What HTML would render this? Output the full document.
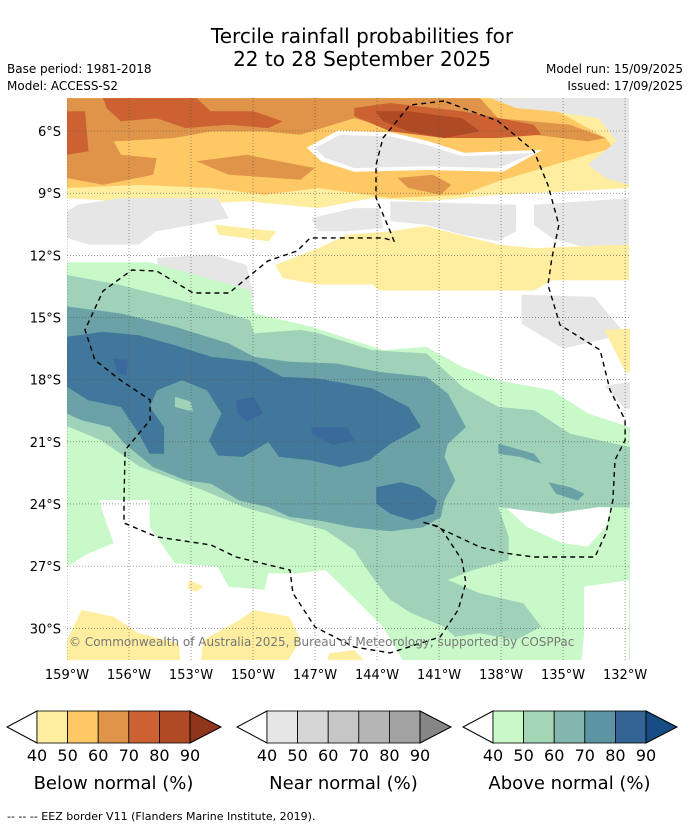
<!DOCTYPE html>
<html><head><meta charset="utf-8"><style>
html,body{margin:0;padding:0;background:#fff;}
body{width:690px;height:827px;overflow:hidden;font-family:"DejaVu Sans","Liberation Sans",sans-serif;}
svg text{font-family:"DejaVu Sans","Liberation Sans",sans-serif;}
</style></head><body>
<svg id="chart" width="690" height="827" viewBox="0 0 690 827" xmlns="http://www.w3.org/2000/svg">
<text x="362" y="43" font-size="20" text-anchor="middle">Tercile rainfall probabilities for</text>
<text x="362" y="66" font-size="20" text-anchor="middle">22 to 28 September 2025</text>
<text x="7" y="73" font-size="12">Base period: 1981-2018</text>
<text x="7" y="90" font-size="12">Model: ACCESS-S2</text>
<text x="683" y="73" font-size="12" text-anchor="end">Model run: 15/09/2025</text>
<text x="683" y="90" font-size="12" text-anchor="end">Issued: 17/09/2025</text>
<defs><clipPath id="mapclip"><rect x="67" y="98" width="563" height="562"/></clipPath></defs>
<g id="map" clip-path="url(#mapclip)"></g>
<g id="axes"></g>
<g id="legend"></g>
<text x="7" y="820" font-size="11">--  --  -- EEZ border V11 (Flanders Marine Institute, 2019).</text>
</svg>
<script>
// axis ticks
const latTicks = [6, 9, 12, 15, 18, 21, 24, 27, 30];
const lonTicks = [159, 156, 153, 150, 147, 144, 141, 138, 135, 132];
const levels = ["40","50","60","70","80","90"];
const belowColors = ["#ffeda0","#fec965","#e0944a","#cc6232","#b04a24","#8f351c"];
const nearColors = ["#e6e6e6","#d6d6d6","#c6c6c6","#b5b5b5","#a2a2a2","#868686"];
const aboveColors = ["#c9f8c9","#a4d6b6","#82b6ae","#5c94a4","#336494","#184c84"];
const legendTitles = ["Below normal (%)","Near normal (%)","Above normal (%)"];
// regions: [color, [[lonW, latS], ...]]
const regions = [
 ["#ffeda0",[[159,4.41],[131.81,4.41],[131.81,8.75],[134.67,8.91],[138.15,9.08],[141.62,9.39],[144.23,9.24],[146.84,9.72],[150.31,9.39],[153.79,9.56],[159,9.24]]],
 ["#fec965",[[159,4.41],[136.41,4.41],[132.94,6.34],[132.59,6.82],[133.8,7.15],[138.15,8.43],[139.89,9.08],[143.36,9.24],[146.84,8.75],[149.44,9.08],[152.05,8.75],[155.52,8.6],[159,8.75]]],
 ["#ffffff",[[147.4,6.81],[145.9,5.98],[143.3,6.07],[141.5,6.49],[139.8,7.05],[136.0,6.91],[137.9,7.97],[141.6,7.88],[145.1,7.97],[146.7,7.46]]],
 ["#e6e6e6",[[147.01,6.82],[145.79,6.18],[143.36,6.26],[141.62,6.67],[139.89,7.22],[136.41,7.06],[138.15,7.79],[141.62,7.70],[145.1,7.79],[146.49,7.31]]],
 ["#e0944a",[[159,4.41],[139.02,4.41],[138.15,5.38],[134.67,5.7],[132.94,6.34],[133.8,6.5],[136.41,6.18],[139.89,6.18],[143.36,5.86],[145.1,5.38],[147.71,6.18],[149.44,6.02],[152.05,6.02],[153.79,6.34],[156.74,6.5],[156.39,7.15],[154.66,7.31],[154.83,8.11],[157.26,8.6],[159,8.27]]],
 ["#e0944a",[[152.74,7.46],[150.31,7.15],[147.01,7.79],[147.71,8.35],[151.18,8.11]]],
 ["#e0944a",[[143.01,8.27],[141.28,8.11],[140.41,8.6],[140.93,9.08],[142.49,8.75]]],
 ["#e6e6e6",[[138.5,4.41],[131.81,4.41],[131.81,8.6],[132.94,8.27],[133.8,7.63],[132.41,6.5],[133.28,5.38],[135.54,5.05],[137.28,4.89]]],
 ["#cc6232",[[159,5.05],[158.13,5.05],[157.96,6.98],[159,7.15]]],
 ["#cc6232",[[157.26,4.41],[152.74,4.41],[152.05,5.05],[149.96,5.05],[148.57,5.53],[149.27,5.86],[151.18,5.7],[153.27,5.86],[154.66,5.38],[156.39,5.53],[157.09,4.89]]],
 ["#cc6232",[[145.1,4.89],[143.36,4.65],[139.89,5.05],[136.41,5.7],[136.06,6.18],[138.15,6.34],[140.76,6.34],[143.36,6.02],[145.1,5.29]]],
 ["#b04a24",[[144.06,5.05],[142.49,5.05],[139.89,5.38],[139.02,6.02],[140.76,6.34],[142.49,6.02],[143.71,5.53]]],
 ["#e6e6e6",[[158.48,9.56],[156.39,9.24],[151.7,9.24],[151.18,10.2],[152.92,10.52],[154.66,10.84],[155.52,11.48],[157.96,11.48],[159,11.17],[159,9.88]]],
 ["#e6e6e6",[[147.18,10.2],[145.1,9.72],[143.88,9.72],[143.71,10.68],[145.45,10.84],[146.84,10.84]]],
 ["#e6e6e6",[[143.36,9.39],[137.28,9.56],[137.28,10.84],[138.15,11.32],[139.89,11.01],[141.62,10.52],[143.36,10.36]]],
 ["#e6e6e6",[[136.41,9.56],[131.81,9.24],[131.81,11.48],[133.8,11.65],[135.54,11.17],[136.41,10.52]]],
 ["#e6e6e6",[[154.66,12.13],[152.05,11.96],[150.31,12.46],[149.96,14.06],[153.79,14.06],[154.48,13.1]]],
 ["#ffeda0",[[148.92,12.46],[146.84,11.65],[145.45,11.01],[143.36,10.84],[141.62,10.6],[138.15,11.48],[136.41,11.65],[131.81,11.48],[131.81,13.2],[135.54,13.2],[136.41,13.7],[143.9,13.7],[144.23,13.41],[146.84,13.41],[148.57,13.1]]],
 ["#ffeda0",[[151.84,10.52],[148.88,10.84],[149.23,11.32],[151.66,11.01]]],
 ["#e6e6e6",[[137,13.9],[133.5,14.0],[132,15.8],[135,16.5],[137,15.3]]],
 ["#ffeda0",[[133,15.6],[131,15.5],[130,16.7],[130,18.0],[132,17.6]]],
 ["#e6e6e6",[[133,18.3],[131,18.0],[130,19.5],[132,19.4]]],
 ["#c9f8c9",[[159,12.33],[155,12.33],[150.15,13.67],[149.96,14.80],[148.57,15.12],[147.17,15.45],[143.7,16.58],[141.61,16.42],[139.87,17.39],[138.13,18.03],[135.52,18.52],[133.78,19.64],[131.78,20.29],[130,20.41],[130,32],[142.49,32],[143.71,29.92],[146.49,27.19],[147.88,27.35],[149.27,27.35],[149.44,28.15],[151.18,27.99],[151.7,27.03],[153.79,26.86],[155.0,25.10],[155.0,23.81],[157.44,23.81],[157.26,24.45],[156.74,25.90],[157.96,26.38],[159,27.03]]],
 ["#ffffff",[[137.8,24.14],[135.54,23.81],[132.59,23.81],[132.94,25.10],[133.8,26.06],[135.02,25.90],[136.76,25.10]]],
 ["#ffffff",[[133.98,27.99],[131.81,27.67],[131.81,32],[134.15,32],[133.98,30.24]]],
 ["#9fd2b9",[[159,12.95],[156.44,13.43],[153.53,14.16],[150.15,15.12],[149.96,15.77],[147.7,15.60],[146.83,15.77],[144.22,16.58],[141.61,16.74],[141.09,17.22],[139.87,18.35],[138.13,19.32],[136.39,19.48],[134.65,20.61],[131.78,21.25],[130,21.43],[130,24.2],[133.26,24.15],[135.52,24.48],[138.13,24.15],[137.63,25.58],[137.63,26.71],[139.37,27.19],[140.58,27.67],[139.02,28.31],[136.93,28.79],[136.06,29.92],[137.28,30.57],[139.02,30.24],[140.23,30.41],[140.76,29.92],[142.32,29.28],[143.36,28.63],[143.88,27.99],[144.58,27.03],[145.1,26.22],[146.49,25.26],[148.23,24.78],[150.49,24.14],[152.5,23.3],[155.47,22.2],[157.4,20.9],[159,20.24]]],
 ["#6aa2a8",[[159,14.47],[156.39,14.81],[153.78,15.45],[151.17,16.25],[149.96,16.9],[148.22,17.14],[145.96,17.22],[143.87,17.63],[141.61,17.87],[140.57,18.67],[139.7,20.29],[140.57,21.09],[140.74,21.73],[140.22,22.86],[140.74,23.84],[140.91,24.63],[141.78,25.13],[143.35,25.32],[145.09,25.14],[146.83,24.80],[148.22,24.63],[149.26,24.15],[150.65,23.84],[152.04,23.02],[153.26,22.86],[154.83,22.22],[156.22,21.09],[156.91,20.29],[158.3,19.96],[159,19.64]]],
 ["#6aa2a8",[[138.13,21.09],[136.39,21.58],[136.04,22.06],[137.09,21.73],[138.13,21.58]]],
 ["#6aa2a8",[[135.7,22.95],[134.65,23.19],[133.96,23.51],[134.3,23.84],[135.35,23.51]]],
 ["#40779a",[[159,15.93],[157.26,15.69],[155.52,15.86],[153.78,16.34],[152.04,16.9],[149.96,17.14],[148.57,17.87],[146.83,17.95],[144.22,18.43],[142.48,19.32],[141.87,20.29],[143.35,21.09],[144.39,21.90],[145.78,22.22],[147.17,21.90],[148.74,21.73],[149.26,21.01],[150.48,21.73],[151.7,21.66],[152.13,20.93],[151.52,19.64],[152.22,18.52],[153.43,18.03],[154.65,18.52],[155.0,19.32],[154.3,20.29],[154.3,21.58],[155.0,21.58],[155.52,20.61],[156.39,19.32],[157.96,19.0],[159,18.35]]],
 ["#6aa2a8",[[154.3,18.83],[153.09,18.52],[152.22,19.0],[152.39,20.29],[153.26,20.77],[153.96,20.29]]],
 ["#9fd2b9",[[153.78,18.83],[153.0,19.07],[152.91,19.55],[153.78,19.32]]],
 ["#40779a",[[144.04,23.19],[142.83,22.95],[141.96,23.19],[141.09,23.84],[141.26,24.48],[142.3,24.8],[143.35,24.48],[144.04,23.99]]],
 ["#3a6a9c",[[150.83,19.0],[149.96,18.83],[149.52,19.64],[150.3,20.04],[150.74,19.64]]],
 ["#3a6a9c",[[147.17,20.29],[145.43,20.29],[145.09,20.93],[146.13,21.17],[147.17,20.61]]],
 ["#3a6a9c",[[156.74,16.98],[156.04,17.06],[156.13,17.78],[156.57,17.71]]],
 ["#ffeda0",[[158.3,29.12],[156.74,29.44],[155.52,30.24],[153.61,30.72],[153.44,32],[159,32],[159,30.57]]],
 ["#ffeda0",[[149.96,29.12],[148.23,29.44],[147.71,30.57],[148.57,32],[152.57,32],[152.4,30.57],[150.66,29.6]]],
 ["#ffeda0",[[153.09,27.67],[152.4,27.99],[152.74,28.24],[153.18,28.07]]],
 ["#ffeda0",[[146.32,31.21],[145.1,31.05],[144.23,32],[146.49,32]]]
];
// EEZ border path [lonW, latS]
const eezLine = [[140.76,4.55],[142.41,4.75],[143.71,6.34],[144.05,7.64],[144.05,9.23],[143.37,10.83],[143.18,11.31],[143.71,11.16],[147.24,11.16],[147.87,11.79],[149.28,12.27],[150.29,13.09],[151.16,13.82],[152.9,13.82],[154.65,12.76],[155.86,12.71],[157.26,13.72],[158.13,15.6],[157.65,17.05],[156.44,18.01],[154.98,18.98],[154.98,19.95],[156.19,21.4],[156.24,23.81],[156.24,24.92],[154.65,25.59],[152.03,25.98],[150.82,26.56],[148.21,27.19],[148.07,28.3],[147.0,29.94],[145.12,30.9],[143.37,31.19],[140.95,30.42],[140.08,29.12],[139.7,27.81],[139.89,26.71],[140.95,25.11],[141.82,24.87],[141.29,25.02],[139.02,26.08],[137.81,26.37],[136.41,26.56],[133.46,26.56],[132.92,25.4],[132.59,23.81],[132.49,21.88],[132.0,20.92],[132.0,19.95],[132.73,18.5],[133.21,16.57],[135.15,15.36],[135.73,13.43],[135.54,12.13],[135.2,10.54],[135.73,8.61],[136.41,6.97],[138.15,5.52],[140.76,4.55]];

const X = lonW => 67 + (159 - lonW) * 20.67;
const Y = latS => 131 + (latS - 6) * 20.72;
const NS = "http://www.w3.org/2000/svg";
function mk(tag, attrs, parent){const e=document.createElementNS(NS,tag);for(const k in attrs)e.setAttribute(k,attrs[k]);parent.appendChild(e);return e;}
const map = document.getElementById('map');
const axes = document.getElementById('axes');
const legend = document.getElementById('legend');
mk('rect',{x:67,y:98,width:563,height:562,fill:'#fff'},map);
regions.forEach((r,i)=>{
  const p = mk('path',{d:'M'+r[1].map(q=>X(q[0]).toFixed(1)+','+Y(q[1]).toFixed(1)).join('L')+'Z',fill:r[0]},map);
  
  
});
latTicks.forEach(t=>{
  const l = mk('line',{x1:67,x2:630,y1:Y(t),y2:Y(t),stroke:'#555','stroke-width':0.6,'stroke-dasharray':'1,2'},map);
  
  
  const tx = mk('text',{x:61,y:Y(t)+5,'font-size':13,'text-anchor':'end'},axes);
  tx.textContent = t+'°S';
  
  
});
lonTicks.forEach(t=>{
  const l = mk('line',{x1:X(t),x2:X(t),y1:98,y2:660,stroke:'#555','stroke-width':0.6,'stroke-dasharray':'1,2'},map);
  
  
  const tx = mk('text',{x:X(t),y:679,'font-size':13,'text-anchor':'middle'},axes);
  tx.textContent = t+'°W';
  
  
});
const eez = mk('path',{d:'M'+eezLine.map(q=>X(q[0]).toFixed(1)+','+Y(q[1]).toFixed(1)).join('L'),fill:'none',stroke:'#000','stroke-width':1.4,'stroke-dasharray':'5,4'},map);


const cr = mk('text',{x:69,y:646,'font-size':12,fill:'#777'},map);
cr.textContent = '© Commonwealth of Australia 2025, Bureau of Meteorology, supported by COSPPac';



const bars = [[belowColors,37],[nearColors,267],[aboveColors,493]];
const bw = 30.6, by = 711, bh = 32;
bars.forEach((b,bi)=>{
  const g = mk('g',{},legend);
  
  
  const x0=b[1], cols=b[0];
  mk('path',{d:`M${x0},${by}L${x0-30},${by+bh/2}L${x0},${by+bh}Z`,fill:'#fff',stroke:'#000','stroke-width':1},g);
  for(let i=0;i<5;i++) mk('rect',{x:x0+i*bw,y:by,width:bw,height:bh,fill:cols[i],stroke:'#000','stroke-width':0.8},g);
  const xe=x0+5*bw;
  mk('path',{d:`M${xe},${by}L${xe+31},${by+bh/2}L${xe},${by+bh}Z`,fill:cols[5],stroke:'#000','stroke-width':1},g);
  levels.forEach((lv,i)=>{
    const t=mk('text',{x:x0+i*bw,y:761,'font-size':16,'text-anchor':'middle'},g);
    t.textContent=lv;
    
    
  });
  const tt=mk('text',{x:x0+2.5*bw,y:789,'font-size':18,'text-anchor':'middle'},g);
  tt.textContent=legendTitles[bi];
  
  
});
</script>
</body></html>
